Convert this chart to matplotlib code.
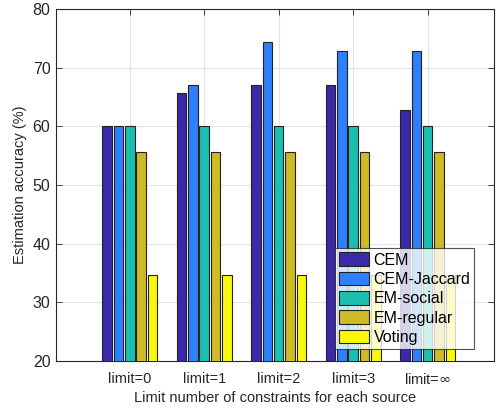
import numpy as np
import matplotlib
matplotlib.use("Agg")
import matplotlib.pyplot as plt

plt.rcParams['font.family'] = ['Liberation Sans', 'DejaVu Sans']

groups = ['limit=0', 'limit=1', 'limit=2', 'limit=3', r'limit=$\infty$']
methods = ['CEM', 'CEM-Jaccard', 'EM-social', 'EM-regular', 'Voting']
cem = [60.0, 65.7, 67.1, 67.1, 62.8]
cem_jaccard = [60.0, 67.1, 74.3, 72.8, 72.8]
em_social = [60.0, 60.0, 60.0, 60.0, 60.0]
em_regular = [55.7, 55.7, 55.7, 55.7, 55.7]
voting = [34.6, 34.6, 34.6, 34.6, 34.6]
series = [cem, cem_jaccard, em_social, em_regular, voting]
colors = ['#3a2aab', '#2f80fe', '#1bbfb0', '#cfba27', '#f8f80e']

fig = plt.figure(figsize=(4.97, 4.11), dpi=100)
ax = fig.add_axes([56/497, 50/411, 438/497, 352/411])

x = np.arange(1, len(groups) + 1)
pitch = 0.152
width = 0.128
for i, (vals, c, name) in enumerate(zip(series, colors, methods)):
    ax.bar(x + (i - 2) * pitch, vals, width, color=c, edgecolor='#222222',
           linewidth=0.8, label=name, zorder=3)

ax.set_xlim(0.01, 5.89)
ax.set_ylim(20, 80)
ax.set_xticks(x)
ax.set_xticklabels(groups, fontsize=10.5)
ax.set_yticks(np.arange(20, 81, 10))
ax.tick_params(axis='y', labelsize=11.5, pad=4)
ax.tick_params(axis='x', pad=8)
ax.tick_params(direction='in', top=True, right=True, length=4, width=0.6, colors='#262626')
ax.grid(True, color='#e3e3e3', linewidth=0.8, zorder=0)
for s in ax.spines.values():
    s.set_linewidth(0.8)
    s.set_color('#262626')
ax.set_ylabel('Estimation accuracy (%)', fontsize=10.5, color='#262626')
ax.set_xlabel('Limit number of constraints for each source', fontsize=10.5, color='#262626', labelpad=3)

leg = ax.legend(loc='lower right', bbox_to_anchor=(0.955, 0.034), fontsize=11.5,
                frameon=True, fancybox=False, handlelength=1.9, handleheight=0.95,
                handletextpad=0.25, labelspacing=0.25, borderpad=0.25, borderaxespad=0)
leg.get_frame().set_edgecolor('#262626')
leg.get_frame().set_linewidth(0.8)

fig.savefig('out.png', dpi=100)
